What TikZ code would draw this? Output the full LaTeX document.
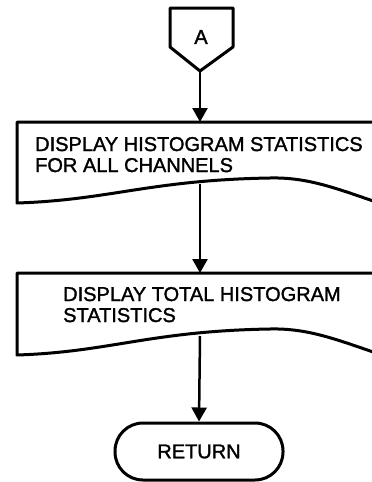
\documentclass[tikz,border=0pt]{standalone}
\usepackage{fontspec}
\newfontfamily\flowfont[FakeBold=1.5]{Liberation Sans}
\usetikzlibrary{arrows.meta}

\begin{document}
\begin{tikzpicture}[x=1pt, y=-1pt]
  % styles
  \tikzset{
    shp/.style={draw=black, line width=3pt, line join=round},
    ln/.style={draw=black, line width=2.5pt},
    arr/.style={ln, -{Triangle[length=14pt, width=15pt]}},
    txt/.style={font=\flowfont\fontsize{20}{21}\selectfont, align=left, inner sep=0pt},
    term/.style={shp, rounded corners=28pt, minimum width=168pt, minimum height=57pt, inner sep=0pt, font=\flowfont\fontsize{20}{21}\selectfont}
  }
  \useasboundingbox (0,0) rectangle (372,482);

  % coordinates
  \coordinate (Atip) at (200,71);   % bottom point of connector A
  \coordinate (B1top) at (200,122); % top of first box
  \coordinate (B1bot) at (200,184); % wavy bottom of first box
  \coordinate (B2top) at (200,273); % top of second box
  \coordinate (B2bot) at (200,336); % wavy bottom of second box

  % off-page connector
  \draw[shp] (170,8) -- (233,8) -- (233,47) -- (Atip) -- (170,47) -- cycle;
  \node[txt] (A) at (201,37) {A};

  % first document box
  \draw[shp] (385,122) -- (17,122) -- (17,203)
    .. controls (110,200) and (150,180) .. (270,178)
    .. controls (310,177) and (340,190) .. (385,205);
  \node[txt, anchor=base west] (t1) at (35,172) {DISPLAY HISTOGRAM STATISTICS\\FOR ALL CHANNELS};

  % second document box
  \draw[shp] (385,273) -- (17,273) -- (17,355)
    .. controls (110,352) and (150,331) .. (270,329)
    .. controls (310,328) and (340,341) .. (385,356);
  \node[txt, anchor=base west] (t2) at (63,322) {DISPLAY TOTAL HISTOGRAM\\STATISTICS};

  % terminal
  \node[term] (ret) at (199,451.5) {RETURN};

  % connectors
  \draw[arr] (Atip) -- (B1top);
  \draw[arr] (B1bot) -- (B2top);
  \draw[arr] (B2bot) -- (ret.north);
\end{tikzpicture}
\end{document}
